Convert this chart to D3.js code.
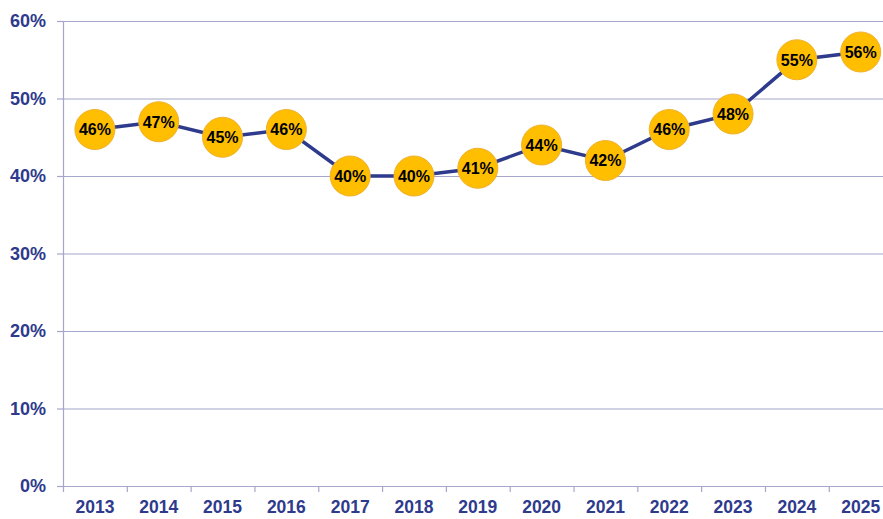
<!DOCTYPE html>
<html>
<head>
<meta charset="utf-8">
<script src="https://cdn.jsdelivr.net/npm/d3@7"></script>
<style>
  body { margin: 0; background: #fff; }
  svg { display: block; font-family: "Liberation Sans", Arial, sans-serif; }
</style>
</head>
<body>
<svg width="883" height="519"></svg>
<script>
// chart data
var years = ["2013", "2014", "2015", "2016", "2017", "2018", "2019", "2020", "2021", "2022", "2023", "2024", "2025"];
var shares = [46, 47, 45, 46, 40, 40, 41, 44, 42, 46, 48, 55, 56];
var yTicks = [0, 10, 20, 30, 40, 50, 60];

var navy = "#2e3a8c",
    grid = "#a6a6cc";

var svg = d3.select("svg"),
    margin = {top: 21, right: -9.6, bottom: 33, left: 63},
    width = +svg.attr("width") - margin.left - margin.right,
    height = +svg.attr("height") - margin.top - margin.bottom;

var x = d3.scaleBand().domain(years).range([0, width]).padding(0),
    y = d3.scaleLinear().domain([0, 60]).range([height, 0]);

var g = svg.append("g")
    .attr("transform", "translate(" + margin.left + "," + margin.top + ")");

// horizontal gridlines
g.selectAll(".grid")
    .data(yTicks.slice(1))
    .enter().append("line")
    .attr("x1", 0)
    .attr("x2", 883 - margin.left)
    .attr("y1", function(d) { return y(d) + 0.5; })
    .attr("y2", function(d) { return y(d) + 0.5; })
    .attr("stroke", grid)
    .attr("stroke-width", 1.2);

// y axis
var yAxis = g.append("g")
    .call(d3.axisLeft(y).tickValues(yTicks).tickSize(6).tickPadding(11)
        .tickFormat(function(d) { return d + "%"; }));
yAxis.select(".domain").attr("stroke", grid).attr("stroke-width", 1.2);
yAxis.selectAll(".tick line").attr("stroke", grid).attr("stroke-width", 1.2);
yAxis.selectAll("text")
    .attr("fill", navy)
    .style("font-size", "18px")
    .style("font-weight", "bold");

// x axis (ticks between categories)
var xAxis = g.append("g")
    .attr("transform", "translate(0," + height + ")")
    .call(d3.axisBottom(x).tickSize(0).tickPadding(15));
xAxis.select(".domain").attr("stroke", grid).attr("stroke-width", 1.2);
xAxis.selectAll("text")
    .attr("fill", navy)
    .style("font-size", "17.5px")
    .style("font-weight", "bold");
xAxis.selectAll(".sep")
    .data(years)
    .enter().append("line")
    .attr("x1", function(d) { return x(d) + 0.5; })
    .attr("x2", function(d) { return x(d) + 0.5; })
    .attr("y1", 0)
    .attr("y2", 6)
    .attr("stroke", grid)
    .attr("stroke-width", 1.2);

var data = years.map(function(yr, i) { return {year: yr, value: shares[i]}; });

var line = d3.line()
    .x(function(d) { return x(d.year) + x.bandwidth() / 2; })
    .y(function(d) { return y(d.value); });

g.append("path")
    .datum(data)
    .attr("d", line)
    .attr("fill", "none")
    .attr("stroke", navy)
    .attr("stroke-width", 3.5);

var pt = g.selectAll(".pt")
    .data(data)
    .enter().append("g")
    .attr("class", "pt")
    .attr("transform", function(d) {
        return "translate(" + (x(d.year) + x.bandwidth() / 2) + "," + y(d.value) + ")";
    });

pt.append("circle")
    .attr("r", 20)
    .attr("fill", "#ffbf00")
    .attr("stroke", "#f0b030")
    .attr("stroke-width", 1);

pt.append("text")
    .attr("text-anchor", "middle")
    .attr("dy", "0.36em")
    .style("font-size", "16px")
    .style("font-weight", "bold")
    .attr("fill", "#000")
    .text(function(d) { return d.value + "%"; });
</script>
</body>
</html>
